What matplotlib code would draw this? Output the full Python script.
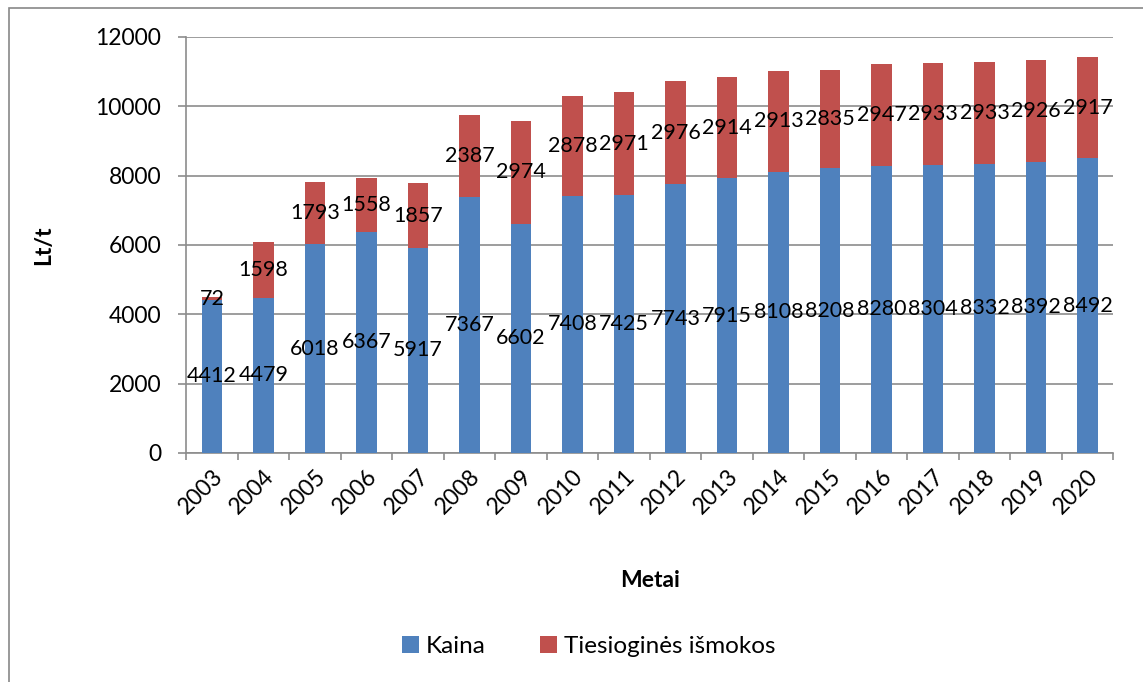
import numpy as np
import matplotlib.pyplot as plt
from matplotlib.patches import Rectangle

plt.rcParams['font.family'] = ['Lato', 'DejaVu Sans']

years = [str(y) for y in range(2003, 2021)]
kaina = [4412, 4479, 6018, 6367, 5917, 7367, 6602, 7408, 7425, 7743,
         7915, 8108, 8208, 8280, 8304, 8332, 8392, 8492]
ismokos = [72, 1598, 1793, 1558, 1857, 2387, 2974, 2878, 2971, 2976,
           2914, 2913, 2835, 2947, 2933, 2933, 2926, 2917]

blue = '#4F81BD'
red = '#C0504D'
fs = 16.5
lab_fs = 15.5

fig = plt.figure(figsize=(11.43, 6.82), dpi=100)
ax = fig.add_axes([0.163, 0.336, 0.811, 0.610])

# outer chart border
fig.patches.append(Rectangle((0.008, -0.05), 1.5, 1.038, transform=fig.transFigure,
                             fill=False, edgecolor='#888888', linewidth=1.2))

x = np.arange(len(years))
w = 0.4
b1 = ax.bar(x, kaina, w, color=blue, label='Kaina', zorder=3)
b2 = ax.bar(x, ismokos, w, bottom=kaina, color=red, label='Tiesioginės išmokos', zorder=3)

for i in range(len(years)):
    ax.text(x[i], kaina[i] / 2, str(kaina[i]), ha='center', va='center',
            fontsize=lab_fs, zorder=4)
    ax.text(x[i], kaina[i] + ismokos[i] / 2, str(ismokos[i]), ha='center', va='center',
            fontsize=lab_fs, zorder=4)

ax.set_xlim(-0.5, len(years) - 0.5)
ax.set_ylim(0, 12000)
ax.set_yticks(range(0, 12001, 2000))
ax.yaxis.grid(True, color='#8c8c8c', linewidth=1.2, zorder=0)
ax.set_xticks(x)
ax.set_xticklabels(years, rotation=45, ha='right', rotation_mode='anchor')
ax.tick_params(axis='x', length=0, labelsize=fs, pad=9)
ax.tick_params(axis='y', length=6, width=1.2, color='#8c8c8c', labelsize=fs, pad=12)
ax.set_xticks(np.arange(-0.5, len(years), 1), minor=True)
ax.tick_params(axis='x', which='minor', length=5, color='#8c8c8c', width=1.2)

for side in ['top', 'right']:
    ax.spines[side].set_visible(False)
for side in ['left', 'bottom']:
    ax.spines[side].set_color('#8c8c8c')
    ax.spines[side].set_linewidth(1.2)

ax.set_ylabel('Lt/t', fontsize=fs, fontweight='bold', labelpad=30)
ax.set_xlabel('Metai', fontsize=fs, fontweight='bold', labelpad=38)

fig.legend(handles=[b1, b2], loc='center', bbox_to_anchor=(0.515, 0.052), ncol=2,
           frameon=False, fontsize=fs + 1, handlelength=0.7, handleheight=0.7,
           handletextpad=0.3, columnspacing=2.2)

fig.savefig('out.png', dpi=100)
